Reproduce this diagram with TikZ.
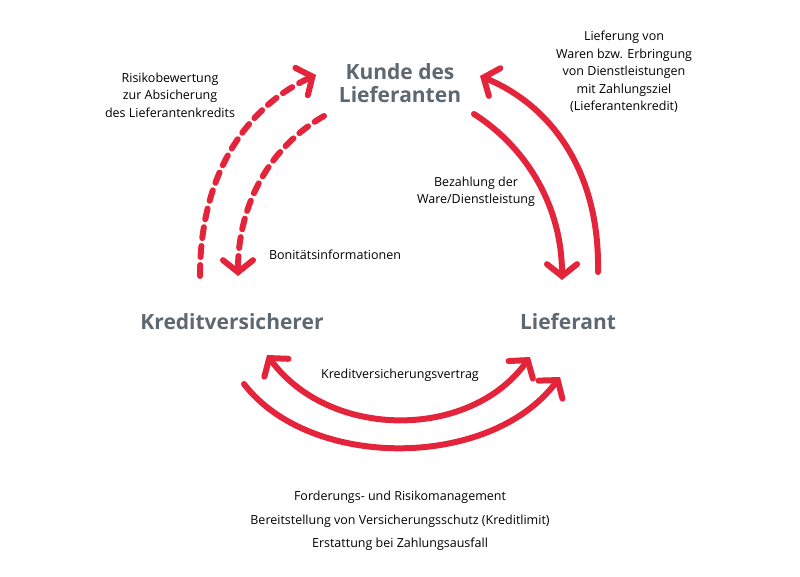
\documentclass[tikz,border=0pt]{standalone}
\usepackage{fontspec}
\setmainfont{Open Sans}
\usetikzlibrary{arrows.meta}
\definecolor{ared}{HTML}{E3243B}
\definecolor{ngray}{HTML}{5E6870}
\begin{document}
\begin{tikzpicture}[x=1pt,y=-1pt,
  party/.style={font=\fontsize{21}{23}\selectfont\bfseries, text=ngray, align=center},
  lbl/.style={font=\fontsize{12.5}{17.5}\selectfont, align=center, text=black},
  tip/.tip={Straight Barb[length=12pt,width=30pt,line cap=round]},
  arr/.style={draw=ared, line width=6pt, line cap=round, -tip},
  dashline/.style={dash pattern=on 11pt off 8pt}]
\useasboundingbox (0,0) rectangle (800,577);
\node[party] (kunde) at (400,83) {Kunde des\\Lieferanten};
\node[party] (kv) at (232,322) {Kreditversicherer};
\node[party] (lief) at (568,322) {Lieferant};
\coordinate (a1) at (200,276); \coordinate (a2) at (316,75);
\coordinate (b1) at (324,116); \coordinate (b2) at (238,276);
\coordinate (c1) at (598,272); \coordinate (c2) at (480,76);
\coordinate (d1) at (474,114); \coordinate (d2) at (562,280);
\coordinate (e1) at (267,355); \coordinate (e2) at (530,357);
\coordinate (f1) at (244,384); \coordinate (f2) at (560,377);
\draw[arr,dashline] (a1) .. controls (200,170) and (250,105) .. (a2);
\draw[arr,dashline] (b1) .. controls (265,150) and (238,210) .. (b2);
\draw[arr] (c1) .. controls (600,170) and (550,105) .. (c2);
\draw[arr] (d1) .. controls (530,150) and (562,210) .. (d2);
\draw[arr,tip-tip] (e1) .. controls (330,440) and (470,440) .. (e2);
\draw[arr] (f1) .. controls (310,470) and (490,470) .. (f2);
\node[lbl] (t1) at (170,95) {Risikobewertung\\zur Absicherung\\des Lieferantenkredits};
\node[lbl] (t2) at (335,255) {Bonitätsinformationen};
\node[lbl] (t3) at (476,192) {Bezahlung der\\Ware/Dienstleistung};
\node[lbl] (t4) at (624,72) {Lieferung von\\Waren bzw. Erbringung\\von Dienstleistungen\\mit Zahlungsziel\\(Lieferantenkredit)};
\node[lbl] (t5) at (400,375) {Kreditversicherungsvertrag};
\node[lbl,font=\fontsize{12.5}{23.5}\selectfont] (t6) at (400,521) {Forderungs- und Risikomanagement\\Bereitstellung von Versicherungsschutz (Kreditlimit)\\Erstattung bei Zahlungsausfall};
\end{tikzpicture}
\end{document}
